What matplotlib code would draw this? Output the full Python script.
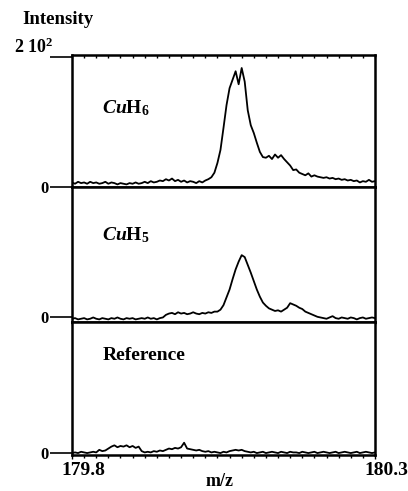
import numpy as np
import matplotlib
matplotlib.use("Agg")
import matplotlib.pyplot as plt
from matplotlib.transforms import ScaledTranslation

plt.rcParams['font.family'] = ['Liberation Serif', 'DejaVu Serif']
plt.rcParams['font.weight'] = 'bold'
plt.rcParams['mathtext.fontset'] = 'custom'
plt.rcParams['mathtext.rm'] = 'Liberation Serif:bold'
plt.rcParams['mathtext.it'] = 'Liberation Serif:italic:bold'
plt.rcParams['mathtext.bf'] = 'Liberation Serif:bold'

# m/z grid (step 0.005 from 179.8 to 180.3)
mz = np.round(np.arange(101) * 0.005 + 179.8, 4)

cuh6 = [7, 5, 8, 6, 7, 5, 8, 6, 7, 5,
        6, 8, 5, 7, 6, 4, 6, 5, 4, 6,
        5, 7, 5, 6, 8, 6, 9, 7, 8, 10,
        9, 12, 10, 13, 9, 11, 8, 10, 7, 9,
        8, 6, 9, 7, 10, 12, 15, 22, 37, 57,
        91, 126, 152, 165, 178, 158, 183, 162, 118, 95,
        83, 68, 54, 46, 45, 48, 43, 50, 45, 49,
        43, 38, 33, 26, 27, 22, 20, 18, 21, 16,
        18, 16, 15, 14, 15, 13, 14, 12, 13, 11,
        12, 10, 11, 9, 10, 7, 9, 8, 11, 8, 9]

cuh5 = [-3, -2, -4, -3, -2, -4, -3, -1, -3, -4,
        -2, -3, -4, -2, -3, -1, -3, -4, -2, -3,
        -2, -4, -3, -2, -3, -1, -3, -2, -4, -2,
        -1, 3, 5, 6, 4, 7, 5, 6, 4, 5,
        7, 5, 4, 6, 5, 7, 6, 8, 8, 11,
        18, 30, 42, 58, 73, 85, 95, 92, 80, 68,
        55, 42, 31, 22, 17, 13, 11, 9, 10, 8,
        11, 14, 21, 19, 17, 14, 12, 8, 6, 4,
        2, 0, -1, -2, -3, -1, 1, -2, -3, -1,
        -2, -3, -1, -2, -4, -2, -1, -3, -2, -1, -2]

reference = [0, 1, 0, 2, 1, 0, 1, 2, 1, 5,
             3, 4, 7, 10, 12, 9, 11, 10, 12, 9,
             11, 8, 10, 3, 1, 2, 1, 3, 2, 4,
             3, 5, 7, 6, 8, 7, 9, 16, 7, 6,
             5, 4, 5, 3, 2, 3, 1, 2, 1, 0,
             2, 1, 3, 4, 5, 4, 5, 3, 2, 1,
             2, 0, 1, 2, 0, 1, 2, 1, 0, 2,
             1, 0, 2, 1, 1, 0, 2, 1, 0, 1,
             2, 0, 1, 2, 1, 0, 1, 2, 0, 1,
             2, 1, 0, 1, 2, 0, 1, 2, 1, 0, 1]

series = [cuh6, cuh5, reference]
labels = [r'$\mathit{Cu}\mathrm{H}_6$', r'$\mathit{Cu}\mathrm{H}_5$', 'Reference']
label_pos = [(0.10, 0.60), (0.10, 0.64), (0.10, 0.75)]
ylims = [(0, 203), (-8, 200), (-3, 203)]
xtick_vals = [179.8, 180.3]
xtick_labels = ['179.8', '180.3']

fig = plt.figure(figsize=(4.08, 4.91), dpi=100)
gs = fig.add_gridspec(3, 1, left=72/408, right=375/408, top=1-55/491, bottom=1-455/491,
                      hspace=0, height_ratios=[132, 135, 133])
axes = [fig.add_subplot(gs[i]) for i in range(3)]

minor_ticks = np.round(np.arange(179.8, 180.301, 0.02), 3)
for i, ax in enumerate(axes):
    ax.plot(mz, series[i], color='black', lw=1.3)
    ax.set_xlim(179.8, 180.3)
    ax.set_ylim(*ylims[i])
    for s in ax.spines.values():
        s.set_linewidth(1.8)
    ax.set_yticks([0])
    ax.set_yticklabels(['0'])
    ax.tick_params(axis='y', direction='out', length=16, width=1.2, pad=1, labelsize=12)
    if i < 2:
        ax.set_xticks([])
    ax.set_xticks(minor_ticks, minor=True)
    ax.tick_params(axis='x', which='minor', direction='out', length=2.5, width=1)
    ax.text(*label_pos[i], labels[i], transform=ax.transAxes, fontsize=14,
            fontweight='bold', ha='left', va='center')

# top panel: 200 tick with label above
axes[0].set_yticks([0, 200])
axes[0].set_yticklabels(['0', ''])
axes[0].annotate(r'$\mathrm{2\ 10^2}$', xy=(0, 200), xycoords=('axes fraction', 'data'),
                 xytext=(-13, 7), textcoords='offset points', ha='right', va='center',
                 fontsize=13)
axes[0].tick_params(axis='x', which='minor', top=True, bottom=False, direction='in')

ax = axes[2]
ax.set_xticks(xtick_vals)
ax.set_xticklabels(xtick_labels, fontsize=14, fontweight='bold')
ax.tick_params(axis='x', which='major', length=3, width=1, pad=2)
off = ScaledTranslation(0.11, 0, fig.dpi_scale_trans)
for lbl in ax.get_xticklabels():
    lbl.set_transform(lbl.get_transform() + off)

fig.text(220/408, 1-482/491, 'm/z', ha='center', va='center', fontsize=13, fontweight='bold')
fig.text(58/408, 1-20/491, 'Intensity', ha='center', va='center', fontsize=13.5, fontweight='bold')

fig.savefig('out.png', dpi=100)
